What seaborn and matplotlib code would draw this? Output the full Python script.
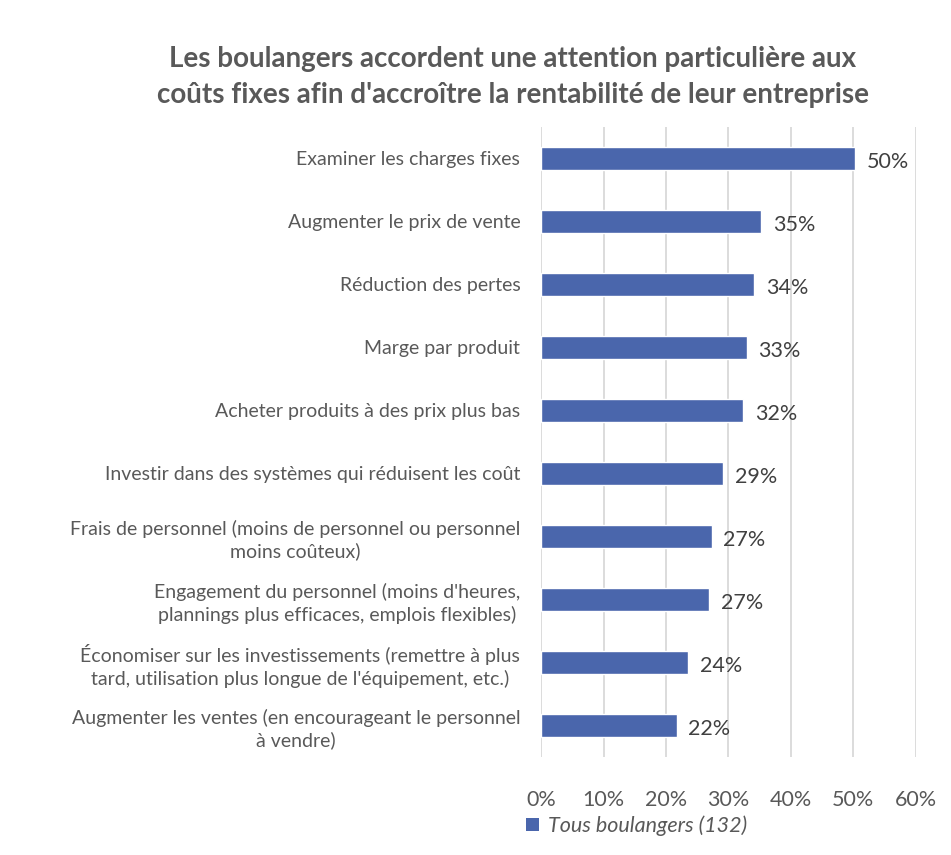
import matplotlib
matplotlib.use("Agg")
import matplotlib.pyplot as plt
import seaborn as sns
import pandas as pd
from matplotlib.patches import Patch
from matplotlib.ticker import PercentFormatter, MultipleLocator

categories = [
    "Examiner les charges fixes",
    "Augmenter le prix de vente",
    "Réduction des pertes",
    "Marge par produit",
    "Acheter produits à des prix plus bas",
    "Investir dans des systèmes qui réduisent les coût",
    "Frais de personnel (moins de personnel ou personnel\nmoins coûteux)",
    "Engagement du personnel (moins d'heures,\nplannings plus efficaces, emplois flexibles)",
    "Économiser sur les investissements (remettre à plus\ntard, utilisation plus longue de l'équipement, etc.)",
    "Augmenter les ventes (en encourageant le personnel\nà vendre)",
]
values = [50.3, 35.2, 34.1, 32.9, 32.4, 29.1, 27.3, 26.9, 23.5, 21.7]
series_name = "Tous boulangers (132)"
title = ("Les boulangers accordent une attention particulière aux\n"
         "coûts fixes afin d'accroître la rentabilité de leur entreprise")

bar_color = "#4A66AC"
text_color = "#595959"

sns.set_theme(style="white")
plt.rcParams["font.family"] = ["Lato", "DejaVu Sans"]

df = pd.DataFrame({"cat": categories, "val": values})

fig = plt.figure(figsize=(9.51, 8.55), dpi=100)
ax = fig.add_axes([0.569, 0.1146, 0.394, 0.737])

sns.barplot(data=df, y="cat", x="val", orient="h", color=bar_color,
            width=0.36, saturation=1, ax=ax)

ax.set_xlim(0, 60)
ax.xaxis.set_major_locator(MultipleLocator(10))
ax.xaxis.set_major_formatter(PercentFormatter(decimals=0))
ax.grid(axis="x", color="#D9D9D9", linewidth=1.3)
ax.set_axisbelow(True)
for s in ax.spines.values():
    s.set_visible(False)
ax.set_xlabel("")
ax.set_ylabel("")
ax.tick_params(axis="x", colors=text_color, labelsize=15.5, length=0, pad=24)
ax.tick_params(axis="y", colors=text_color, labelsize=14, length=0, pad=15)
for lbl in ax.get_yticklabels():
    lbl.set_multialignment("center")
    lbl.set_linespacing(1.3)

for i, v in enumerate(values):
    ax.text(v + 1.9, i + 0.06, f"{round(v):d}%", va="center", ha="left",
            fontsize=15.5, color="#404040")

fig.text(0.539, 0.946, title, ha="center", va="top", fontsize=20,
         fontweight="bold", color=text_color, linespacing=1.45)

handle = Patch(facecolor=bar_color, edgecolor="none")
leg = fig.legend([handle], [series_name], loc="center left",
                 bbox_to_anchor=(0.533, 0.034), frameon=False,
                 prop={"style": "italic", "size": 15.5},
                 handlelength=0.6, handleheight=0.6, handletextpad=0.4)
for t in leg.get_texts():
    t.set_color(text_color)

fig.savefig("out.png", dpi=100, facecolor="white")
